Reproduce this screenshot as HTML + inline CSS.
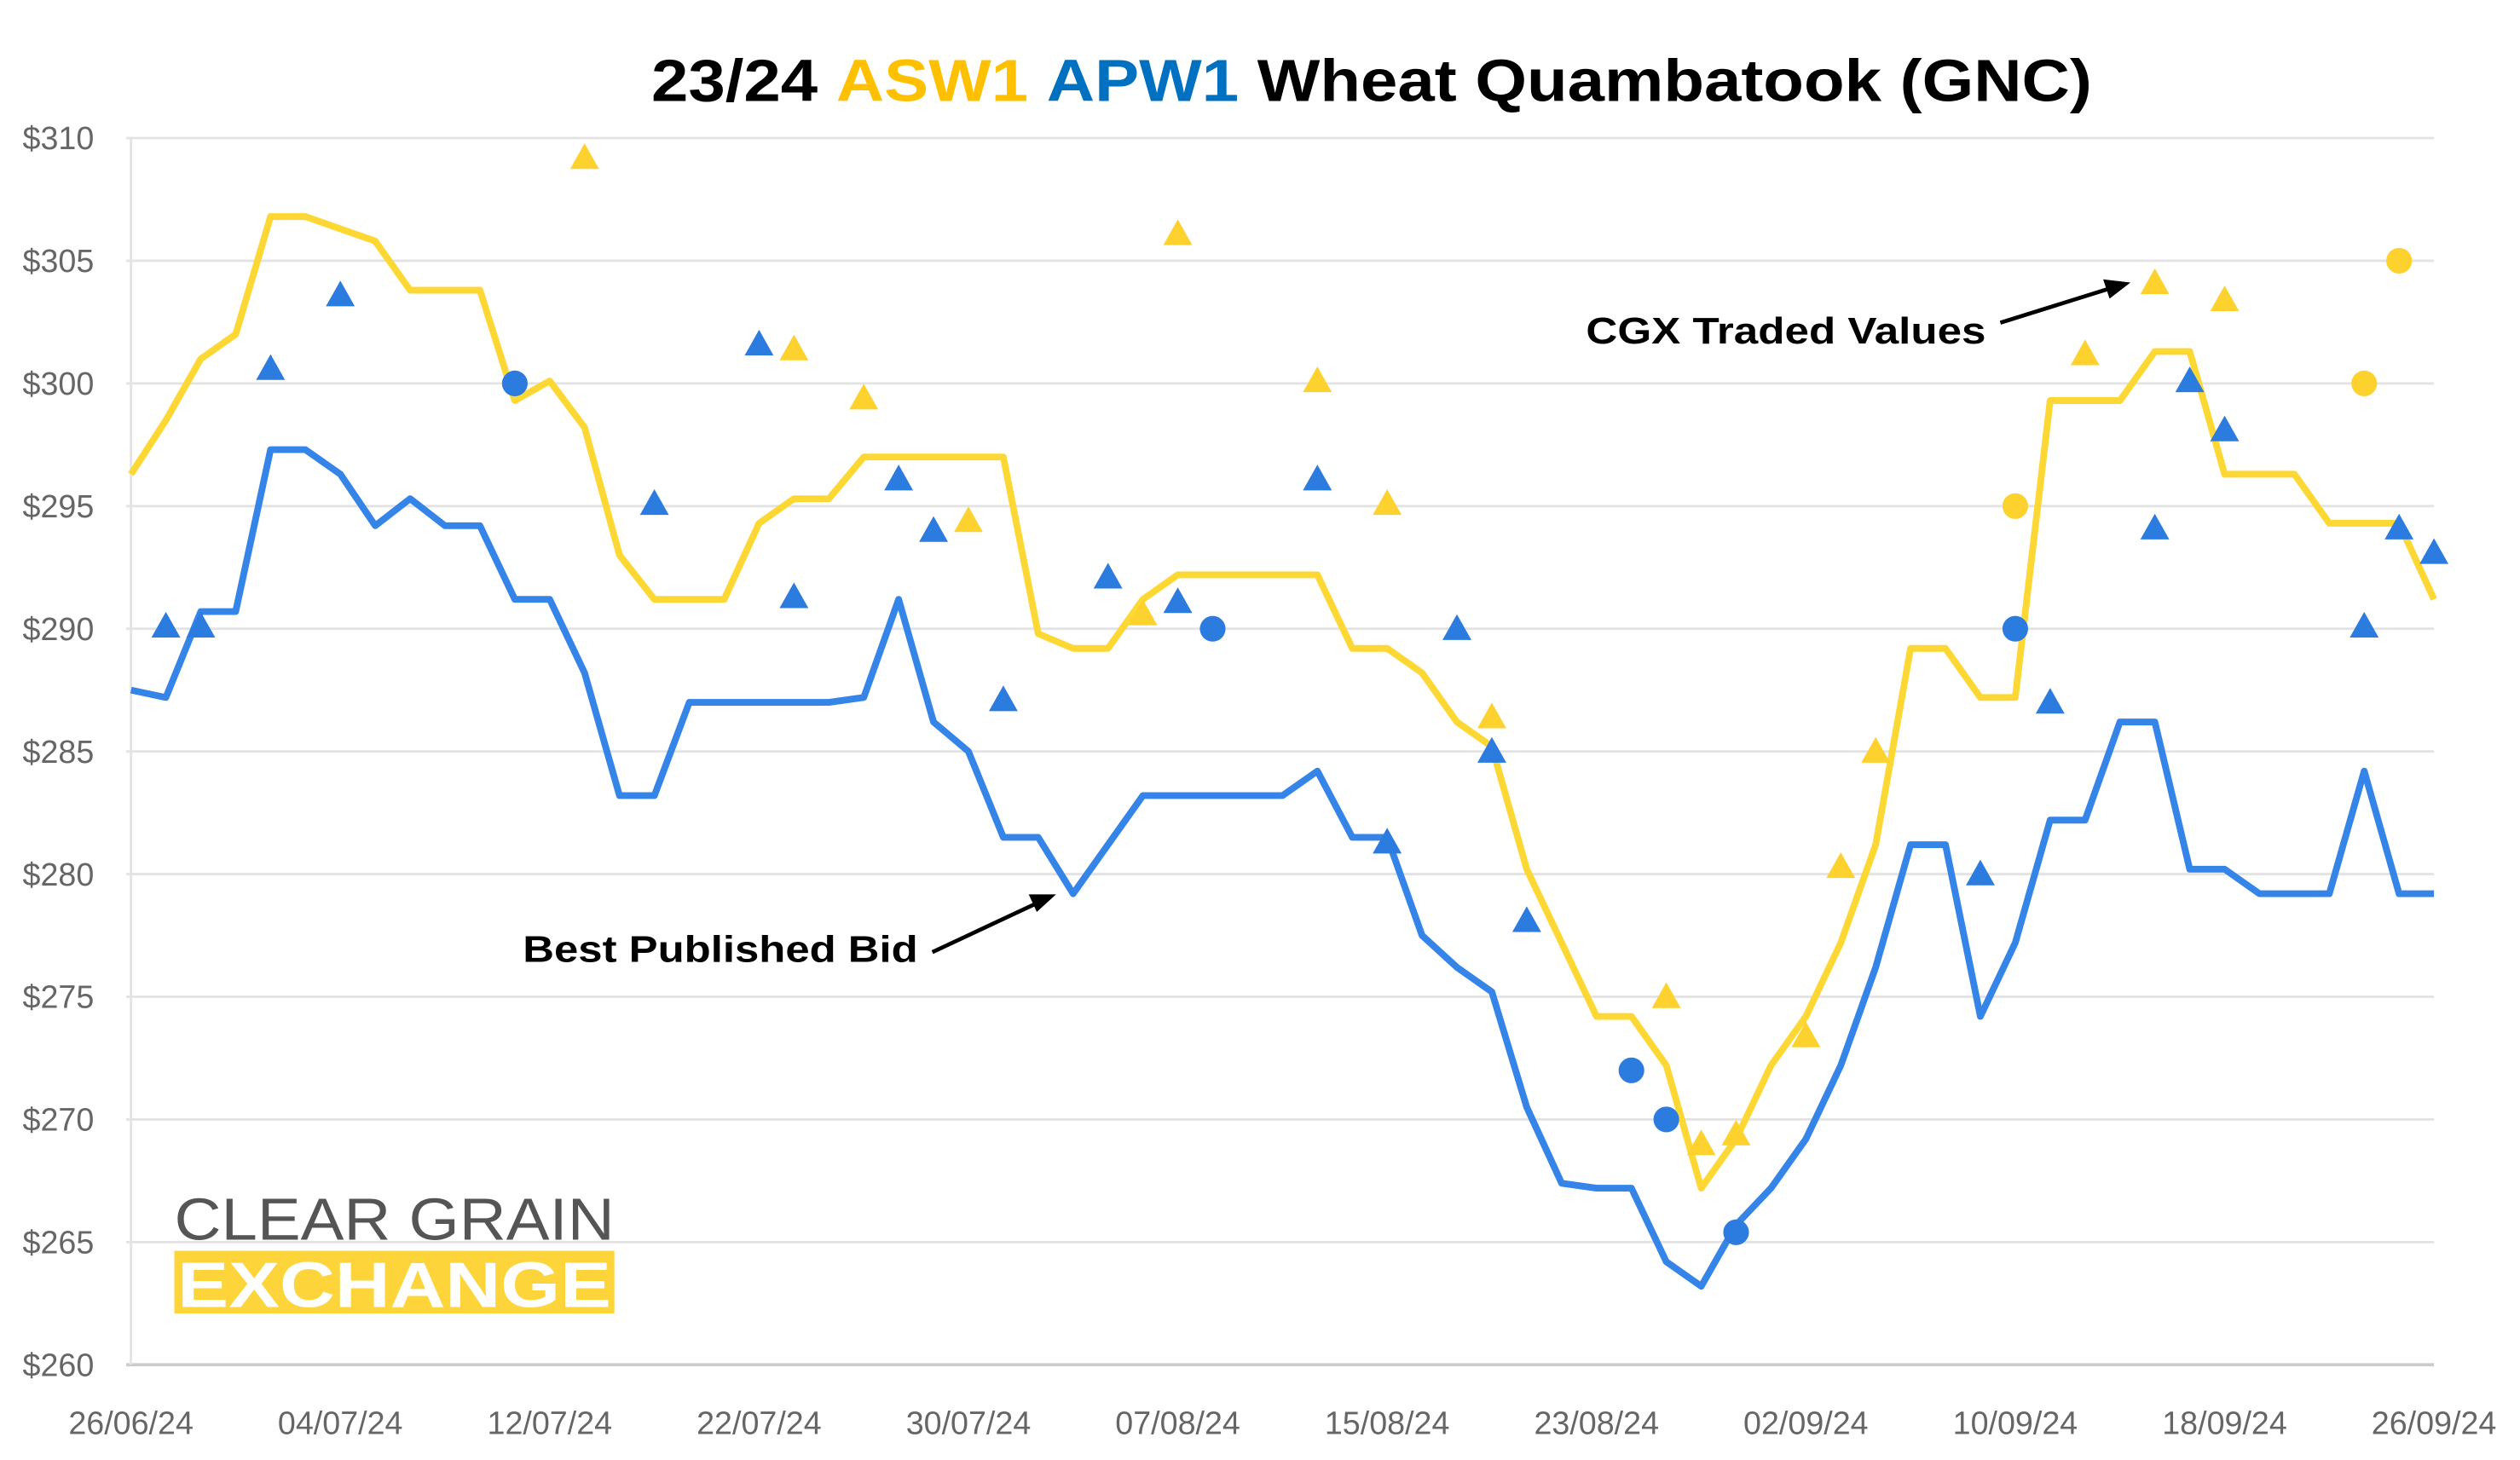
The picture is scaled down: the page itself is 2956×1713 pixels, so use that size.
<!DOCTYPE html>
<html><head><meta charset="utf-8"><style>
html,body{margin:0;padding:0;background:#fff;}
svg{display:block;}
text{font-family:"Liberation Sans",sans-serif;}
</style></head><body>
<svg id="chart" width="2956" height="1713" viewBox="0 0 1568 909.3" xmlns="http://www.w3.org/2000/svg">
<rect width="1568" height="910" fill="#fff"/>
<text x="405" y="63" font-size="37" font-weight="bold" fill="#000" textLength="897" lengthAdjust="spacingAndGlyphs">23/24 <tspan fill="#FFC000">ASW1</tspan> <tspan fill="#0070C0">APW1</tspan> Wheat Quambatook (GNC)</text>
<g id="grid"></g>
<g id="yaxis"></g>
<g id="xaxis"></g>
<g id="series"></g>
<g>
<text x="108" y="772" font-size="37" fill="#555" textLength="274" lengthAdjust="spacingAndGlyphs">CLEAR GRAIN</text>
<rect x="108" y="779" width="274" height="39" fill="#FDD43A"/>
<text x="110" y="814" font-size="40" font-weight="bold" fill="#fff" textLength="270" lengthAdjust="spacingAndGlyphs">EXCHANGE</text>
</g>
<g>
<text x="987" y="214" font-size="23" font-weight="bold" fill="#000" textLength="249" lengthAdjust="spacingAndGlyphs">CGX Traded Values</text>
<line x1="1245" y1="201" x2="1312" y2="180" stroke="#000" stroke-width="2.5"/>
<polygon points="1326,176 1309,174 1313,186" fill="#000"/>
</g>
<g>
<text x="325" y="599" font-size="23" font-weight="bold" fill="#000" textLength="246" lengthAdjust="spacingAndGlyphs">Best Published Bid</text>
<line x1="580" y1="593" x2="644" y2="563" stroke="#000" stroke-width="2.5"/>
<polygon points="657,557 640,557 645,568" fill="#000"/>
</g>
</svg>
<script>
const xLabels=["26/06/24","04/07/24","12/07/24","22/07/24","30/07/24","07/08/24","15/08/24","23/08/24","02/09/24","10/09/24","18/09/24","26/09/24"];
const yTicks=[260,265,270,275,280,285,290,295,300,305,310];
const asw1Bid=[296.3,298.5,301,302,306.8,306.8,306.3,305.8,303.8,303.8,303.8,299.3,300.1,298.2,293,291.2,291.2,291.2,294.3,295.3,295.3,297,297,297,297,297,289.8,289.2,289.2,291.2,292.2,292.2,292.2,292.2,292.2,289.2,289.2,288.2,286.2,285.2,280.2,277.2,274.2,274.2,272.2,267.2,269.2,272.2,274.2,277.2,281.2,289.2,289.2,287.2,287.2,299.3,299.3,299.3,301.3,301.3,296.3,296.3,296.3,294.3,294.3,294.3,291.2];
const apw1Bid=[287.5,287.2,290.7,290.7,297.3,297.3,296.3,294.2,295.3,294.2,294.2,291.2,291.2,288.2,283.2,283.2,287,287,287,287,287,287.2,291.2,286.2,285,281.5,281.5,279.2,281.2,283.2,283.2,283.2,283.2,283.2,284.2,281.5,281.5,277.5,276.2,275.2,270.5,267.4,267.2,267.2,264.2,263.2,265.7,267.2,269.2,272.2,276.2,281.2,281.2,274.2,277.2,282.2,282.2,286.2,286.2,280.2,280.2,279.2,279.2,279.2,284.2,279.2,279.2];
const aswTriIdx=[13,19,21,24,29,30,34,36,39,44,45,46,48,49,50,56,58,60];
const aswTriVal=[309.2,301.4,299.4,294.4,290.6,306.1,300.1,295.1,286.4,275,269,269.4,273.4,280.3,285,301.2,304.1,303.4];
const aswCircIdx=[54,64,65];
const aswCircVal=[295,300,305];
const apwTriIdx=[1,2,4,6,15,18,19,22,23,25,28,30,34,36,38,39,40,53,55,58,59,60,64,65,66];
const apwTriVal=[290.1,290.1,300.6,303.6,295.1,301.6,291.3,296.1,294,287.1,292.1,291.1,296.1,281.3,290,285,278.1,280,287,294.1,300.1,298.1,290.1,294.1,293.1];
const apwCircIdx=[11,31,43,44,46,54];
const apwCircVal=[300,290,272,270,265.4,290];

const NS="http://www.w3.org/2000/svg";
const X0=81,X1=1515,Y0=850,Y1=86,NPTS=67;
function xs(i){return X0+(X1-X0)*i/(NPTS-1);}
function ys(v){return Y0-(v-260)/(310-260)*(Y0-Y1);}
function mk(tag,attrs,parent){const e=document.createElementNS(NS,tag);for(const k in attrs)e.setAttribute(k,attrs[k]);parent.appendChild(e);return e;}
const grid=document.getElementById('grid'),yax=document.getElementById('yaxis'),xax=document.getElementById('xaxis'),ser=document.getElementById('series');
yTicks.forEach(t=>{
  const l=mk('line',{x1:X0-3,x2:X1,y1:ys(t),y2:ys(t),stroke:t===260?'#ccc':'#e3e3e3','stroke-width':t===260?2:1.5},grid);
  
  
  const tx=mk('text',{x:58,y:ys(t)+7,'text-anchor':'end','font-size':20,fill:'#666'},yax);
  tx.textContent='$'+t;
  
  
});
const vl=mk('line',{x1:X0,x2:X0,y1:Y1,y2:Y0,stroke:'#e3e3e3','stroke-width':1.5},grid);


xLabels.forEach((s,k)=>{
  const tx=mk('text',{x:xs(k*6),y:893,'text-anchor':'middle','font-size':20,fill:'#666'},xax);
  tx.textContent=s;
  
  
});
function line(arr,color,name){
  const p=mk('polyline',{points:arr.map((v,i)=>xs(i)+','+ys(v)).join(' '),fill:'none',stroke:color,'stroke-width':4.2,'stroke-linejoin':'round'},ser);
  
  
}
function tris(idx,vals,color,name){
  idx.forEach((i,k)=>{const x=xs(i),y=ys(vals[k]);
    const p=mk('polygon',{points:`${x},${y-9} ${x-9},${y+7} ${x+9},${y+7}`,fill:color},ser);
    
    });
}
function circs(idx,vals,color,name){
  idx.forEach((i,k)=>{
    const c=mk('circle',{cx:xs(i),cy:ys(vals[k]),r:8,fill:color},ser);
    
    });
}
line(asw1Bid,'#FDD835','asw1-best-bid-line');
line(apw1Bid,'#3584E8','apw1-best-bid-line');
tris(aswTriIdx,aswTriVal,'#FDD22F','asw1-traded-triangle');
circs(aswCircIdx,aswCircVal,'#FDD22F','asw1-traded-circle');
tris(apwTriIdx,apwTriVal,'#2C7CE0','apw1-traded-triangle');
circs(apwCircIdx,apwCircVal,'#2C7CE0','apw1-traded-circle');
</script>
</body></html>
